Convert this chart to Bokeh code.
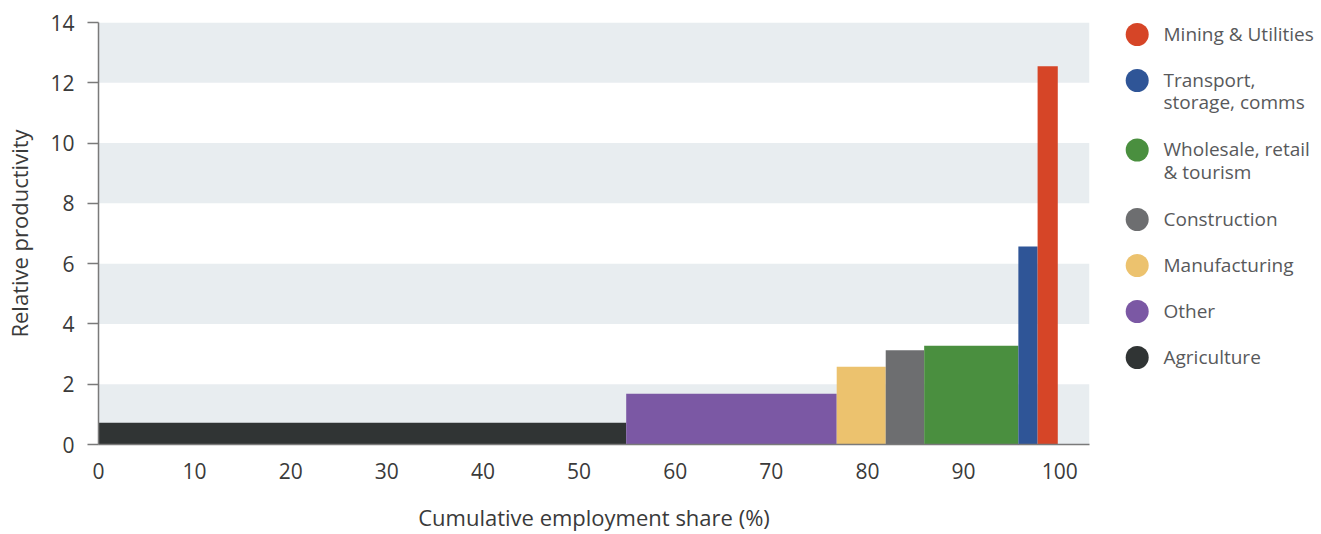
import numpy as np
from bokeh.plotting import figure
from bokeh.models import Range1d, FixedTicker, ColumnDataSource, BoxAnnotation
from bokeh.layouts import row
from bokeh.embed import file_html
from bokeh.resources import INLINE
from bokeh.core.properties import value

# Sectors ordered by relative productivity (left to right along the x axis)
sectors = ["Agriculture", "Other", "Manufacturing", "Construction",
           "Wholesale, retail & tourism", "Transport, storage, comms",
           "Mining & Utilities"]
legend_labels = ["Agriculture", "Other", "Manufacturing", "Construction",
                 "Wholesale, retail\n& tourism", "Transport,\nstorage, comms",
                 "Mining & Utilities"]
employment_share = [54.9, 21.9, 5.1, 4.0, 9.8, 2.0, 2.1]
relative_productivity = [0.72, 1.68, 2.58, 3.13, 3.28, 6.57, 12.55]
colors = ["#303434", "#7b58a4", "#ecc26e", "#6d6e70", "#4a8f3f", "#2f5597", "#d64527"]

x_ticks = list(range(0, 101, 10))
y_ticks = list(range(0, 15, 2))

FONT = "Open Sans"

right = np.cumsum(employment_share)
left = right - np.array(employment_share)

src = ColumnDataSource(dict(left=left, right=right, top=relative_productivity,
                            color=colors, sector=sectors))

TOP, BOTTOM = 22, 90

p = figure(width=1100, height=534,
           x_range=Range1d(0, 103.1), y_range=Range1d(0, 14),
           output_backend="svg", toolbar_location=None,
           min_border_left=98, min_border_right=11,
           min_border_top=TOP, min_border_bottom=BOTTOM)
p.outline_line_color = None
p.background_fill_color = "white"
p.grid.visible = False

# Alternating shaded bands between every other pair of y ticks (0-2, 4-6, ...)
for lo, hi in zip(y_ticks[0::2], y_ticks[1::2]):
    p.add_layout(BoxAnnotation(bottom=lo, top=hi, fill_color="#e8edf0",
                               fill_alpha=1.0, line_color=None, level="underlay"))

p.quad(left="left", right="right", bottom=0, top="top",
       fill_color="color", line_color=None, source=src)

p.xaxis.ticker = FixedTicker(ticks=x_ticks)
p.yaxis.ticker = FixedTicker(ticks=y_ticks)

for ax in (p.xaxis, p.yaxis):
    ax.axis_line_color = "#7a7a7a"
    ax.axis_line_width = 1.5
    ax.major_tick_line_color = "#7a7a7a"
    ax.major_tick_line_width = 1.5
    ax.minor_tick_line_color = None
    ax.major_label_text_font = FONT
    ax.major_label_text_font_size = "21px"
    ax.major_label_text_color = "#3a3a3a"
    ax.axis_label_text_font = FONT
    ax.axis_label_text_font_size = "22px"
    ax.axis_label_text_font_style = "normal"
    ax.axis_label_text_color = "#3a3a3a"

p.xaxis.major_tick_in = 0
p.xaxis.major_tick_out = 0
p.xaxis.major_label_standoff = 18
p.xaxis.axis_label = "Cumulative employment share (%)"
p.xaxis.axis_label_standoff = 20

p.yaxis.major_tick_in = 0
p.yaxis.major_tick_out = 11
p.yaxis.major_label_standoff = 13
p.yaxis.axis_label = "Relative productivity"
p.yaxis.axis_label_standoff = 13

# Legend panel: markers and labels listed from highest to lowest productivity.
# Its frame shares the main plot's vertical extent, so the y range is in page pixels.
lines = [lab.count("\n") + 1 for lab in legend_labels[::-1]]
centers = []
y = 34.0
for n in lines:
    centers.append(y)
    y += 46 + 23.5 * (n - 1)

leg_src = ColumnDataSource(dict(
    x=[36.7] * len(lines), tx=[63.0] * len(lines),
    y=centers, ty=[c - 14 for c in centers],
    label=legend_labels[::-1], color=colors[::-1]))

leg = figure(width=221, height=534,
             x_range=Range1d(0, 221), y_range=Range1d(534 - BOTTOM, TOP),
             output_backend="svg", toolbar_location=None,
             x_axis_location=None, y_axis_location=None,
             min_border_left=0, min_border_right=0,
             min_border_top=TOP, min_border_bottom=BOTTOM)
leg.outline_line_color = None
leg.grid.visible = False
leg.scatter(x="x", y="y", size=23, marker="circle", fill_color="color",
            line_color=None, source=leg_src)
leg.text(x="tx", y="ty", text="label", source=leg_src,
         text_font=value(FONT), text_font_size="19px", text_color="#58595b",
         text_baseline="top", text_align="left", text_line_height=0.87)

layout = row(p, leg, spacing=0)

open("out.html", "w").write(file_html(layout, INLINE))
